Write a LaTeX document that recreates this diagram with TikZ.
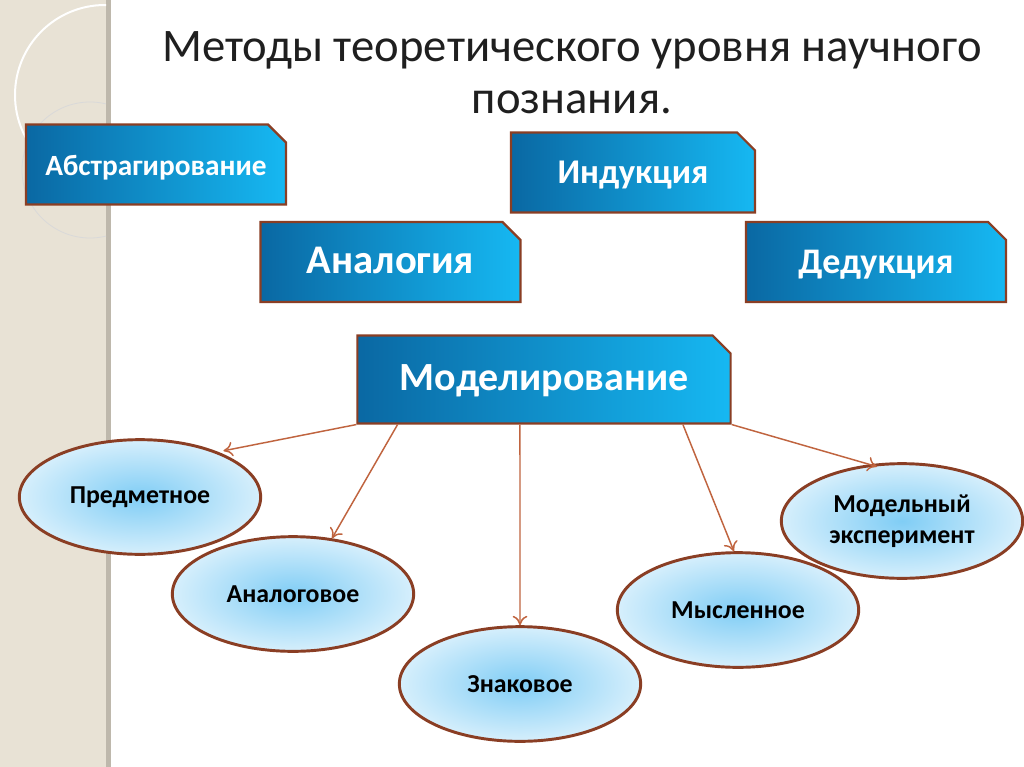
\documentclass[tikz,border=0pt]{standalone}
\usepackage{fontspec}
\setmainfont{Carlito}
\usetikzlibrary{shapes.misc,shapes.geometric,calc,arrows.meta}
\definecolor{rim}{HTML}{8A3E24}
\definecolor{deep}{HTML}{0A68A3}
\definecolor{sky}{HTML}{16B8F2}
\definecolor{pale}{HTML}{D6EFFC}
\definecolor{mid}{HTML}{80CDF5}
\definecolor{wire}{HTML}{C0643F}
\definecolor{paper}{HTML}{E8E2D5}
\definecolor{seam}{HTML}{BEB8AC}
\begin{document}
\begin{tikzpicture}[x=0.75pt,y=-0.75pt,
    method/.style={chamfered rectangle, chamfered rectangle corners=north east,
      chamfered rectangle xsep=5pt, chamfered rectangle ysep=8.5pt,
      draw=rim, line width=1.6pt, left color=deep, right color=sky,
      text=white, font=\bfseries\fontsize{27}{30}\selectfont,
      text height=17pt, text depth=0pt,
      inner sep=0pt, minimum width=195pt, minimum height=60pt},
    kind/.style={ellipse, draw=rim, line width=2.2pt, inner color=mid, outer color=pale,
      align=center, inner sep=0pt, font=\bfseries\fontsize{19.4}{23}\selectfont,
      minimum width=181pt, minimum height=86pt},
    link/.style={draw=wire, line width=1.1pt, -{To[length=7pt,width=11pt]}}]
  \useasboundingbox (0,0) rectangle (1024,767);
  \fill[white] (0,0) rectangle (1024,767);
  \fill[paper] (0,0) rectangle (110,767);
  \fill[seam] (106,0) rectangle (111,767);
  \begin{scope}
    \clip (0,0) rectangle (106,767);
    \draw[white, line width=1.5pt] (105,95) circle (90);
    \draw[white!85!black, line width=0.6pt] (90,170) circle (68);
  \end{scope}

  \node (title) at (572,73) [align=center, text=black!88, font=\fontsize{35}{39}\selectfont]
    {Методы теоретического уровня научного\\познания.};

  \node (abs) at (156,164.5) [method, font=\bfseries\fontsize{22}{24}\selectfont] {Абстрагирование};
  \node (ind) at (633,172.5) [method, minimum width=183pt, font=\bfseries\fontsize{26}{30}\selectfont] {Индукция};
  \node (ana) at (390.5,262) [method, font=\bfseries\fontsize{30.5}{32}\selectfont] {Аналогия};
  \node (ded) at (876,262) [method] {Дедукция};
  \node (mod) at (544,379.5) [method, minimum width=280pt, minimum height=66pt,
    font=\bfseries\fontsize{30}{32}\selectfont] {Моделирование};

  \node (pred) at (140,497) [kind] {Предметное};
  \node (anal) at (293,594) [kind] {Аналоговое};
  \node (znak) at (520,684) [kind] {Знаковое};
  \node (mysl) at (738,610) [kind] {Мысленное};
  \node (expr) at (902,521) [kind] {Модельный\\эксперимент};

  \draw [link, shorten >=4pt] (mod.south west) -- (pred.30);
  \draw [link] ($(mod.south west)!0.11!(mod.south east)$) -- (anal.55);
  \draw [link] ($(mod.south west)!0.436!(mod.south east)$) -- (znak.north);
  \draw [link] ($(mod.south west)!0.87!(mod.south east)$) -- (mysl.94);
  \draw [link, shorten >=-6pt] (mod.south east) -- (expr.120);
\end{tikzpicture}
\end{document}
